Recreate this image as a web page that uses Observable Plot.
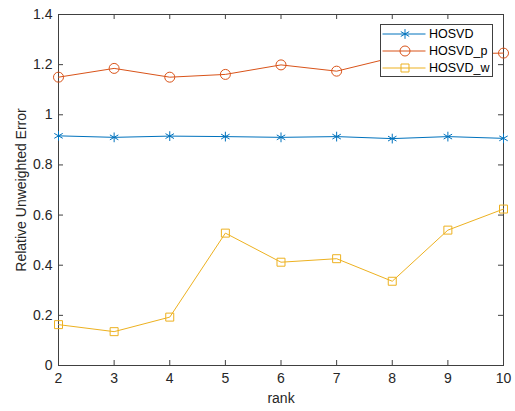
<!DOCTYPE html>
<html>
<head>
<meta charset="utf-8">
<script src="https://cdn.jsdelivr.net/npm/d3@7"></script>
<script src="https://cdn.jsdelivr.net/npm/@observablehq/plot@0.6"></script>
<style>
  html, body { margin: 0; padding: 0; background: #fff; }
  #chart svg { display: block; }
</style>
</head>
<body>
<div id="chart"></div>
<script>
const ranks = [2, 3, 4, 5, 6, 7, 8, 9, 10];
const hosvd  = [0.916, 0.910, 0.915, 0.913, 0.910, 0.913, 0.905, 0.913, 0.906];
const hosvdP = [1.150, 1.185, 1.150, 1.161, 1.199, 1.174, 1.228, 1.243, 1.246];
const hosvdW = [0.163, 0.135, 0.193, 0.528, 0.412, 0.426, 0.336, 0.540, 0.624];
const seriesNames = ["HOSVD", "HOSVD_p", "HOSVD_w"];
const seriesColors = ["#0072BD", "#D95319", "#EDB120"];
const seriesSymbols = ["asterisk", "circle", "square"];
const xTicks = [2, 3, 4, 5, 6, 7, 8, 9, 10];
const yTicks = [0, 0.2, 0.4, 0.6, 0.8, 1, 1.2, 1.4];
const xLabel = "rank";
const yLabel = "Relative Unweighted Error";

const W = 515, H = 411;
const mL = 58, mR = 12, mT = 14, mB = 46;
const plotH = H - mT - mB, plotW = W - mL - mR;
const axisColor = "#404040";
const font = "'Liberation Sans', Arial, sans-serif";

const seriesValues = [hosvd, hosvdP, hosvdW];
const rows = [];
seriesNames.forEach((s, i) => ranks.forEach((r, j) => rows.push({series: s, rank: r, value: seriesValues[i][j]})));

const symbolR = {asterisk: 4.6, circle: 5, square: 4.5};

const marks = [
  Plot.frame({stroke: axisColor, strokeWidth: 1}),
  // inward ticks (bottom, top, left, right)
  Plot.ruleX(xTicks, {x: d => d, stroke: axisColor, insetTop: plotH - 5}),
  Plot.ruleX(xTicks, {x: d => d, stroke: axisColor, insetBottom: plotH - 5}),
  Plot.ruleY(yTicks, {y: d => d, stroke: axisColor, insetRight: plotW - 5}),
  Plot.ruleY(yTicks, {y: d => d, stroke: axisColor, insetLeft: plotW - 5}),
  Plot.axisX({ticks: xTicks, tickSize: 0, tickPadding: 8, tickFormat: d => String(d),
    label: xLabel, labelAnchor: "center", labelArrow: "none", labelOffset: 37, fontSize: 14}),
  Plot.axisY({ticks: yTicks, tickSize: 0, tickPadding: 6, tickFormat: d => String(+d.toFixed(1)),
    label: yLabel, labelAnchor: "center", labelArrow: "none", labelOffset: 42, fontSize: 14})
];
seriesNames.forEach((s, i) => {
  const data = rows.filter(d => d.series === s);
  marks.push(Plot.line(data, {x: "rank", y: "value", stroke: seriesColors[i], strokeWidth: 1}));
  marks.push(Plot.dot(data, {x: "rank", y: "value", stroke: seriesColors[i], fill: "none",
    symbol: () => seriesSymbols[i], r: symbolR[seriesSymbols[i]], strokeWidth: 1}));
});

const chart = Plot.plot({
  width: W, height: H,
  marginLeft: mL, marginRight: mR, marginTop: mT, marginBottom: mB,
  style: {fontFamily: font, fontSize: "14px", color: "#262626", background: "#fff"},
  x: {domain: [2, 10]},
  y: {domain: [0, 1.4]},
  symbol: {type: "identity"},
  marks
});

// Legend (MATLAB style box with line + marker swatches)
const svg = d3.select(chart);
const lg = svg.append("g").attr("font-family", font).attr("font-size", 12.5).attr("text-anchor", "start");
const lx = 380.5, ly = 24.5, lw = 112, lh = 52;
lg.append("rect").attr("x", lx).attr("y", ly).attr("width", lw).attr("height", lh)
  .attr("fill", "#fff").attr("stroke", axisColor);
const symMap = {asterisk: d3.symbolAsterisk, circle: d3.symbolCircle, square: d3.symbolSquare};
seriesNames.forEach((s, i) => {
  const cy = ly + 9.5 + i * 17;
  lg.append("line").attr("x1", lx + 2).attr("x2", lx + 45).attr("y1", cy).attr("y2", cy)
    .attr("stroke", seriesColors[i]).attr("stroke-width", 1);
  const r = symbolR[seriesSymbols[i]];
  lg.append("path").attr("transform", `translate(${lx + 24.5},${cy})`)
    .attr("d", d3.symbol(symMap[seriesSymbols[i]], Math.PI * r * r)())
    .attr("fill", "none").attr("stroke", seriesColors[i]);
  lg.append("text").attr("x", lx + 48.5).attr("y", cy).attr("dy", "0.35em")
    .attr("text-anchor", "start").attr("fill", "#000").text(s);
});

document.getElementById("chart").appendChild(chart);
</script>
</body>
</html>
